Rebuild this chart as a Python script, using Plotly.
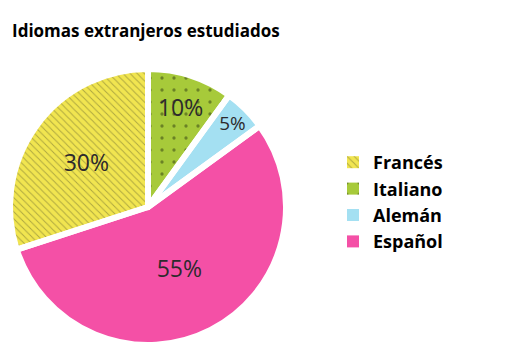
import plotly.graph_objects as go

labels = ["Francés", "Italiano", "Alemán", "Español"]
values = [30, 10, 5, 55]
colors = ["#f1e550", "#a7ca3a", "#a4e0f2", "#f450a6"]
pattern_shapes = ["\\", ".", "", ""]
title_text = "Idiomas extranjeros estudiados"

W, H = 512, 364
cx, cy, R = 148, 207, 138
dom = dict(x=[(cx - R) / W, (cx + R) / W],
           y=[(H - cy - R) / H, (H - cy + R) / H])

fig = go.Figure()
fig.add_trace(go.Pie(
    labels=labels,
    values=values,
    sort=False,
    direction="clockwise",
    rotation=-108,
    textinfo="percent",
    texttemplate="%{percent:.0%}",
    textposition="inside",
    insidetextorientation="horizontal",
    textfont=dict(family="Open Sans", size=23, color="#2d2a2d"),
    marker=dict(
        colors=colors,
        line=dict(color="white", width=0),
        pattern=dict(shape=pattern_shapes, fgcolor=["#6b6a30", "#2e3a10", "#000", "#000"],
                     size=[5, 12, 6, 6], solidity=[0.2, 0.06, 0.2, 0.2],
                     fillmode="overlay"),
    ),
    domain=dom,
    hoverinfo="label+percent",
))
# white separators drawn by a transparent overlay of the same pie
fig.add_trace(go.Pie(
    labels=labels,
    values=values,
    sort=False,
    direction="clockwise",
    rotation=-108,
    textinfo="none",
    marker=dict(colors=["rgba(0,0,0,0)"] * len(values),
                line=dict(color="white", width=6)),
    domain=dom,
    showlegend=False,
    hoverinfo="skip",
))

fig.update_layout(
    width=W, height=H,
    margin=dict(l=0, r=0, t=0, b=0),
    paper_bgcolor="white",
    plot_bgcolor="white",
    title=dict(text=title_text, x=12 / W, xanchor="left", y=1 - 31 / H,
               yanchor="middle",
               font=dict(family="Open Sans", size=17, color="black", weight="bold")),
    legend=dict(x=333 / W, y=1 - 144 / H, xanchor="left", yanchor="top",
                font=dict(family="Open Sans", size=18, color="black", weight="bold"),
                traceorder="normal", itemwidth=30),
    showlegend=True,
)

fig.write_html("out.html")
